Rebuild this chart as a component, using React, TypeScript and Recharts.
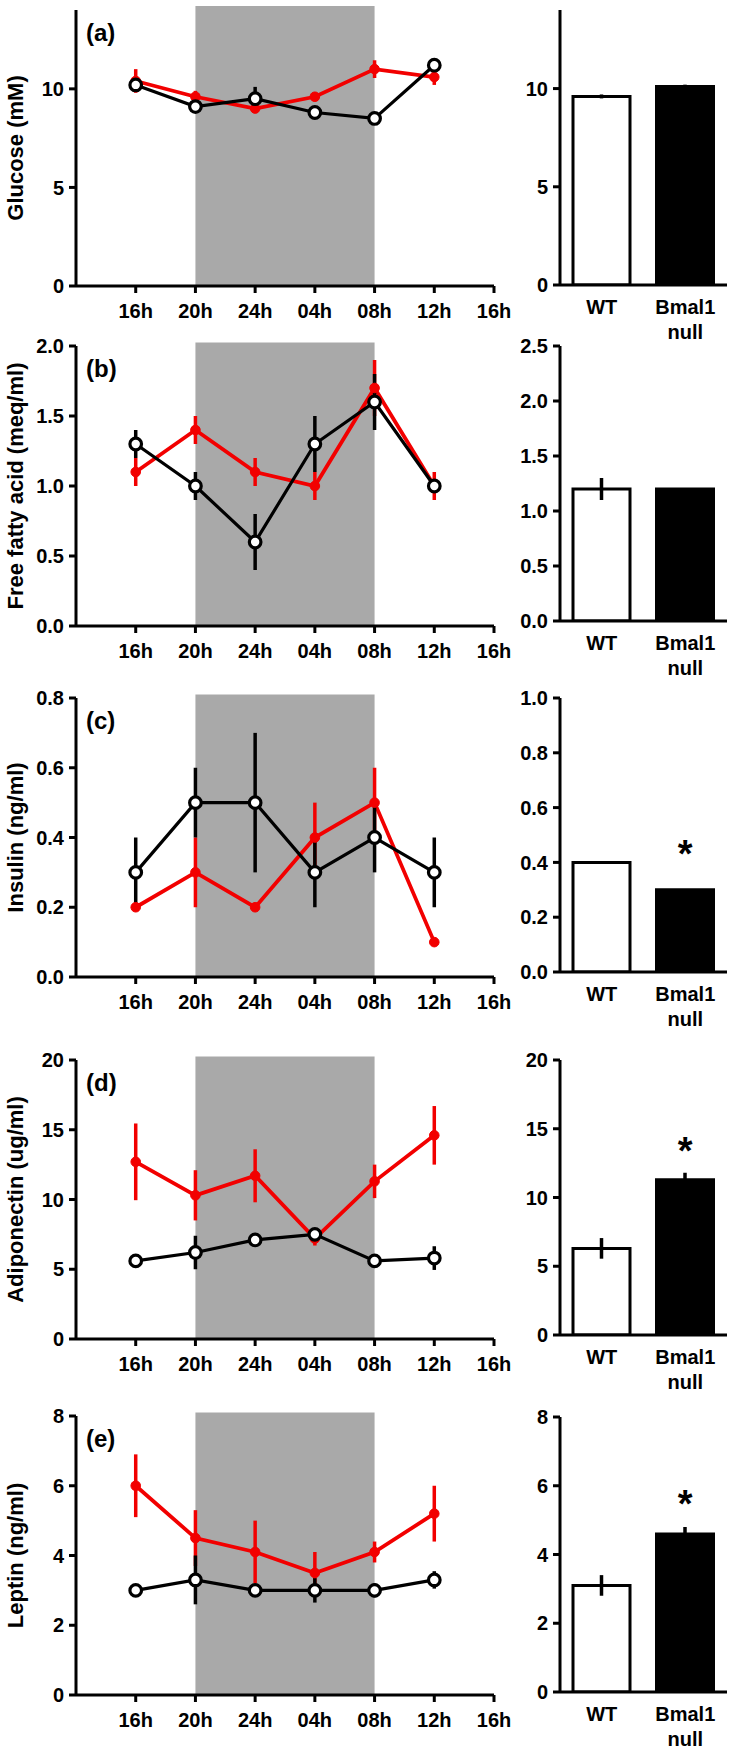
import React from "react";
import {
  ComposedChart,
  BarChart,
  Line,
  Bar,
  Cell,
  XAxis,
  YAxis,
  ErrorBar,
  ReferenceArea,
  ReferenceDot,
} from "recharts";

const FONT = "'Liberation Sans', Arial, Helvetica, sans-serif";
const RED = "#f20000";
const SHADE = "#a9a9a9";

// x axis of the time courses
const timeLabels = ["16h", "20h", "24h", "04h", "08h", "12h", "16h"];
const sampleTimes = ["16h", "20h", "24h", "04h", "08h", "12h"];
const nightFrom = "20h";
const nightTo = "08h";
const groups = ["WT", "Bmal1\nnull"];

// (a) glucose
const glucoseWT = [10.2, 9.1, 9.5, 8.8, 8.5, 11.2];
const glucoseWTErr = [0.3, 0.15, 0.6, 0.3, 0.15, 0.2];
const glucoseKO = [10.4, 9.6, 9.0, 9.6, 11.0, 10.6];
const glucoseKOErr = [0.6, 0.3, 0.2, 0.2, 0.45, 0.4];
const glucoseBar = [9.6, 10.1];
const glucoseBarErr = [0.1, 0.1];

// (b) free fatty acid
const ffaWT = [1.3, 1.0, 0.6, 1.3, 1.6, 1.0];
const ffaWTErr = [0.1, 0.1, 0.2, 0.2, 0.2, 0.03];
const ffaKO = [1.1, 1.4, 1.1, 1.0, 1.7, 1.0];
const ffaKOErr = [0.1, 0.1, 0.1, 0.1, 0.2, 0.1];
const ffaBar = [1.2, 1.2];
const ffaBarErr = [0.1, 0];

// (c) insulin
const insulinWT = [0.3, 0.5, 0.5, 0.3, 0.4, 0.3];
const insulinWTErr = [0.1, 0.1, 0.2, 0.1, 0.1, 0.1];
const insulinKO = [0.2, 0.3, 0.2, 0.4, 0.5, 0.1];
const insulinKOErr = [0, 0.1, 0, 0.1, 0.1, 0];
const insulinBar = [0.4, 0.3];
const insulinBarErr = [0, 0];

// (d) adiponectin
const adipoWT = [5.6, 6.2, 7.1, 7.5, 5.6, 5.8];
const adipoWTErr = [0.2, 1.2, 0.2, 0.3, 0.2, 0.85];
const adipoKO = [12.7, 10.3, 11.7, 7.2, 11.3, 14.6];
const adipoKOErr = [2.75, 1.8, 1.9, 0.5, 1.2, 2.1];
const adipoBar = [6.3, 11.3];
const adipoBarErr = [0.75, 0.5];

// (e) leptin
const leptinWT = [3.0, 3.3, 3.0, 3.0, 3.0, 3.3];
const leptinWTErr = [0.1, 0.7, 0.1, 0.35, 0.2, 0.25];
const leptinKO = [6.0, 4.5, 4.1, 3.5, 4.1, 5.2];
const leptinKOErr = [0.9, 0.8, 0.9, 0.6, 0.3, 0.8];
const leptinBar = [3.1, 4.6];
const leptinBarErr = [0.3, 0.2];

// significance marks over the Bmal1 null bar (value where the * sits)
const starAt = [null, null, 0.46, 14.0, 5.7];

const lineTicks = [
  [0, 5, 10],
  [0, 0.5, 1.0, 1.5, 2.0],
  [0, 0.2, 0.4, 0.6, 0.8],
  [0, 5, 10, 15, 20],
  [0, 2, 4, 6, 8],
];
const lineMax = [14, 2.0, 0.8, 20, 8];
const barTicks = [
  [0, 5, 10],
  [0, 0.5, 1.0, 1.5, 2.0, 2.5],
  [0, 0.2, 0.4, 0.6, 0.8, 1.0],
  [0, 5, 10, 15, 20],
  [0, 2, 4, 6, 8],
];
const barMax = [14, 2.5, 1.0, 20, 8];
const nightBandTop = [14.2, 2.025, 0.81, 20.25, 8.1];
const decimals = [0, 1, 1, 0, 0];
const letters = ["(a)", "(b)", "(c)", "(d)", "(e)"];
const yTitles = [
  "Glucose (mM)",
  "Free fatty acid (meq/ml)",
  "Insulin (ng/ml)",
  "Adiponectin (ug/ml)",
  "Leptin (ng/ml)",
];

// page layout: plot top / bottom in page pixels
const lineBox = [
  [10, 286],
  [346, 626],
  [698, 977],
  [1060, 1339],
  [1416, 1695],
];
const barBox = [
  [10, 285],
  [346, 621],
  [698, 972],
  [1060, 1335],
  [1417, 1692],
];

const seriesWT = [glucoseWT, ffaWT, insulinWT, adipoWT, leptinWT];
const seriesWTErr = [glucoseWTErr, ffaWTErr, insulinWTErr, adipoWTErr, leptinWTErr];
const seriesKO = [glucoseKO, ffaKO, insulinKO, adipoKO, leptinKO];
const seriesKOErr = [glucoseKOErr, ffaKOErr, insulinKOErr, adipoKOErr, leptinKOErr];
const bars = [glucoseBar, ffaBar, insulinBar, adipoBar, leptinBar];
const barsErr = [glucoseBarErr, ffaBarErr, insulinBarErr, adipoBarErr, leptinBarErr];

const tickStyle = { fill: "#000", fontSize: 20, fontWeight: 700, fontFamily: FONT };
const axisStroke = { stroke: "#000", strokeWidth: 3 };

function TimeCourse({ i }: { i: number }) {
  const data = sampleTimes.map((t, k) => ({
    x: k + 1,
    time: t,
    wt: seriesWT[i][k],
    wtErr: seriesWTErr[i][k],
    ko: seriesKO[i][k],
    koErr: seriesKOErr[i][k],
  }));
  const [top, bottom] = lineBox[i];
  const mTop = 16;
  const plotH = bottom - top;
  const axisH = 46;
  const H = mTop + plotH + axisH;
  const cy = mTop + plotH / 2;
  const fmt = (v: number) => v.toFixed(decimals[i]);

  const yTitle = () => (
    <text
      x={23}
      y={cy}
      transform={`rotate(-90, 23, ${cy})`}
      textAnchor="middle"
      fontFamily={FONT}
      fontWeight={700}
      fontSize={22}
      fill="#000"
    >
      {yTitles[i]}
    </text>
  );

  return (
    <div style={{ position: "absolute", left: 0, top: top - mTop }}>
      <ComposedChart
        width={522}
        height={H}
        data={data}
        margin={{ top: mTop, right: 28, bottom: 0, left: 0 }}
      >
        <ReferenceArea
          x1={sampleTimes.indexOf(nightFrom) + 1}
          x2={sampleTimes.indexOf(nightTo) + 1}
          y1={0}
          y2={nightBandTop[i]}
          fill={SHADE}
          fillOpacity={1}
          stroke="none"
          ifOverflow="visible"
        />
        <XAxis
          type="number"
          dataKey="x"
          domain={[0, 7]}
          ticks={[1, 2, 3, 4, 5, 6, 7]}
          tickFormatter={(v: number) => timeLabels[v - 1]}
          allowDataOverflow
          height={axisH}
          axisLine={axisStroke}
          tickLine={axisStroke}
          tickSize={7}
          tickMargin={11}
          tick={tickStyle}
          interval={0}
        />
        <YAxis
          type="number"
          domain={[0, lineMax[i]]}
          ticks={lineTicks[i]}
          tickFormatter={fmt}
          allowDataOverflow
          width={76}
          axisLine={axisStroke}
          tickLine={axisStroke}
          tickSize={7}
          tickMargin={5}
          tick={tickStyle}
          interval={0}
          label={yTitle}
        />
        <Line
          dataKey="ko"
          stroke={RED}
          strokeWidth={3.8}
          dot={{ r: 4.8, fill: RED, stroke: RED, strokeWidth: 1 }}
          activeDot={false}
          isAnimationActive={false}
        >
          <ErrorBar dataKey="koErr" direction="y" width={0} stroke={RED} strokeWidth={3.5} />
        </Line>
        <Line
          dataKey="wt"
          stroke="#000"
          strokeWidth={3.2}
          dot={{ r: 5.8, fill: "#fff", stroke: "#000", strokeWidth: 3.2 }}
          activeDot={false}
          isAnimationActive={false}
        >
          <ErrorBar dataKey="wtErr" direction="y" width={0} stroke="#000" strokeWidth={3.5} />
        </Line>
      </ComposedChart>
    </div>
  );
}

// eslint-disable-next-line @typescript-eslint/no-explicit-any
function GroupTick({ x, y, payload }: any) {
  const lines = String(payload.value).split("\n");
  return (
    <text x={x} y={y} textAnchor="middle" fontFamily={FONT} fontWeight={700} fontSize={20} fill="#000">
      {lines.map((l, k) => (
        <tspan key={k} x={x} dy={k === 0 ? 29 : 25}>
          {l}
        </tspan>
      ))}
    </text>
  );
}

// eslint-disable-next-line @typescript-eslint/no-explicit-any
function Star({ cx, cy }: any) {
  return (
    <text x={cx} y={cy + 21} textAnchor="middle" fontFamily={FONT} fontWeight={700} fontSize={38} fill="#000">
      *
    </text>
  );
}

function Summary({ i }: { i: number }) {
  const data = groups.map((g, k) => ({ group: g, value: bars[i][k], err: barsErr[i][k] }));
  const [top, bottom] = barBox[i];
  const mTop = 16;
  const axisH = 64;
  const H = mTop + (bottom - top) + axisH;
  const fmt = (v: number) => v.toFixed(decimals[i]);
  const star = starAt[i];

  return (
    <div style={{ position: "absolute", left: 480, top: top - mTop }}>
      <BarChart
        width={254}
        height={H}
        data={data}
        margin={{ top: mTop, right: 7, bottom: 0, left: 0 }}
        barCategoryGap={0}
      >
        <XAxis
          dataKey="group"
          type="category"
          height={axisH}
          axisLine={axisStroke}
          tickLine={false}
          tickSize={0}
          tickMargin={0}
          tick={<GroupTick />}
          interval={0}
        />
        <YAxis
          type="number"
          domain={[0, barMax[i]]}
          ticks={barTicks[i]}
          tickFormatter={fmt}
          allowDataOverflow
          width={80}
          axisLine={axisStroke}
          tickLine={axisStroke}
          tickSize={7}
          tickMargin={5}
          tick={tickStyle}
          interval={0}
        />
        <Bar dataKey="value" barSize={57} stroke="#000" strokeWidth={3} isAnimationActive={false}>
          {data.map((d, k) => (
            <Cell key={d.group} fill={k === 0 ? "#fff" : "#000"} />
          ))}
          <ErrorBar dataKey="err" direction="y" width={0} stroke="#000" strokeWidth={3.5} />
        </Bar>
        {star != null && (
          <ReferenceDot x={groups[1]} y={star} r={0} shape={Star} ifOverflow="visible" />
        )}
      </BarChart>
    </div>
  );
}

export default function App() {
  return (
    <div
      style={{
        position: "absolute",
        left: 0,
        top: 0,
        width: 734,
        height: 1752,
        background: "#fff",
        overflow: "hidden",
      }}
    >
      {letters.map((l, i) => (
        <React.Fragment key={l}>
          <TimeCourse i={i} />
          <Summary i={i} />
          <div
            style={{
              position: "absolute",
              left: 86,
              top: lineBox[i][0] + 11,
              fontFamily: FONT,
              fontWeight: 700,
              fontSize: 24,
              lineHeight: "24px",
              color: "#000",
            }}
          >
            {l}
          </div>
        </React.Fragment>
      ))}
    </div>
  );
}
